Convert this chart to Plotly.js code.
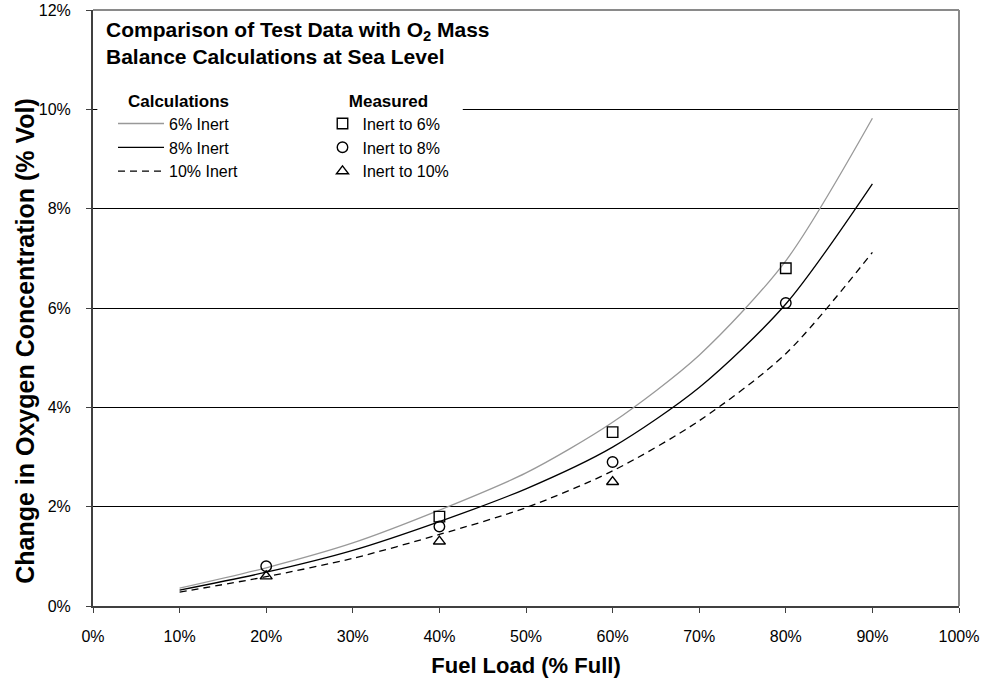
<!DOCTYPE html>
<html>
<head>
<meta charset="utf-8">
<script src="https://cdn.plot.ly/plotly-3.0.1.min.js"></script>
<style>
  html, body { margin: 0; padding: 0; background: #fff; }
  #chart { width: 984px; height: 683px; }
</style>
</head>
<body>
<div id="chart"></div>
<script>
// Fuel load (% full) for the mass balance calculations
const calcLoad = [10, 20, 30, 40, 50, 60, 70, 80, 90];
// Calculated change in O2 concentration (% vol) for each inert level
const calc6 = [0.36, 0.77, 1.27, 1.93, 2.68, 3.70, 5.05, 6.95, 9.82];
const calc8 = [0.32, 0.68, 1.12, 1.70, 2.36, 3.20, 4.40, 6.08, 8.50];
const calc10 = [0.28, 0.59, 0.96, 1.44, 1.98, 2.72, 3.73, 5.08, 7.12];

// Measured test points
const meas6Load = [40, 60, 80];
const meas6 = [1.8, 3.5, 6.8];
const meas8Load = [20, 40, 60, 80];
const meas8 = [0.8, 1.6, 2.9, 6.1];
const meas10Load = [20, 40, 60];
const meas10 = [0.6, 1.3, 2.5];

const xTicks = [0, 10, 20, 30, 40, 50, 60, 70, 80, 90, 100];
const yTicks = [0, 2, 4, 6, 8, 10, 12];

const FONT = 'Liberation Sans, Arial, sans-serif';

const lineTrace = (y, name, color, dash) => ({
  x: calcLoad, y: y, name: name, type: 'scatter', mode: 'lines',
  line: { color: color, width: 1.3, dash: dash, shape: 'spline', smoothing: 0.8 },
  legend: 'legend', hoverinfo: 'skip'
});
const markTrace = (x, y, name, symbol) => ({
  x: x, y: y, name: name, type: 'scatter', mode: 'markers',
  marker: { symbol: symbol, size: 10.5, color: '#000', line: { color: '#000', width: 1.4 } },
  legend: 'legend2', hoverinfo: 'skip'
});

const traces = [
  lineTrace(calc6, '6% Inert', '#999999', 'solid'),
  lineTrace(calc8, '8% Inert', '#000000', 'solid'),
  lineTrace(calc10, '10% Inert', '#000000', '7px,5px'),
  markTrace(meas6Load, meas6, 'Inert to 6%', 'square-open'),
  markTrace(meas8Load, meas8, 'Inert to 8%', 'circle-open'),
  markTrace(meas10Load, meas10, 'Inert to 10%', 'triangle-up-open')
];

const legendBase = {
  bgcolor: 'rgba(255,255,255,0)', borderwidth: 0,
  font: { family: FONT, size: 16, color: '#000' },
  tracegroupgap: 0, itemclick: false, itemdoubleclick: false,
  yanchor: 'top', xanchor: 'left'
};

const layout = {
  width: 984, height: 683,
  margin: { l: 93, r: 25, t: 10, b: 77 },
  paper_bgcolor: '#fff', plot_bgcolor: '#fff',
  font: { family: FONT, color: '#000' },
  showlegend: true,
  xaxis: {
    range: [0, 100], tickvals: xTicks, ticktext: xTicks.map(v => v + '%'),
    showgrid: false, zeroline: false,
    showline: true, linecolor: '#404040', linewidth: 2,
    ticks: 'outside', ticklen: 5, tickcolor: '#404040', tickwidth: 1,
    ticklabelstandoff: 10,
    tickfont: { family: FONT, size: 16, color: '#000' },
    title: { text: 'Fuel Load (% Full)', font: { family: FONT, size: 22, color: '#000', weight: 'bold' }, standoff: 13 }
  },
  yaxis: {
    range: [0, 12], tickvals: yTicks, ticktext: yTicks.map(v => v + '%'),
    showgrid: true, gridcolor: '#000', gridwidth: 1, zeroline: false,
    showline: true, linecolor: '#404040', linewidth: 2,
    ticks: 'outside', ticklen: 5, tickcolor: '#404040', tickwidth: 1,
    ticklabelstandoff: 12,
    tickfont: { family: FONT, size: 16, color: '#000' }
  },
  legend: Object.assign({}, legendBase, {
    x: 0.0231, y: 0.875, itemwidth: 46,
    title: { text: 'Calculations', side: 'top center', font: { family: FONT, size: 17, weight: 'bold' } }
  }),
  legend2: Object.assign({}, legendBase, {
    x: 0.265, y: 0.875, itemwidth: 30,
    title: { text: 'Measured', side: 'top center', font: { family: FONT, size: 17, weight: 'bold' } }
  }),
  shapes: [
    // white panel behind the heading and key
    { type: 'rect', xref: 'paper', yref: 'paper', x0: 0.005, x1: 0.427, y0: 0.69, y1: 0.995,
      fillcolor: '#fff', line: { width: 0 }, layer: 'above' },
    // frame on the top and right of the plot
    { type: 'line', xref: 'paper', yref: 'paper', x0: 0, x1: 1, y0: 1, y1: 1,
      line: { color: '#8a8a8a', width: 2 }, layer: 'above' },
    { type: 'line', xref: 'paper', yref: 'paper', x0: 1, x1: 1, y0: 0, y1: 1,
      line: { color: '#8a8a8a', width: 2 }, layer: 'above' }
  ],
  annotations: [
    { xref: 'paper', yref: 'paper', x: 0.013, y: 0.99, xanchor: 'left', yanchor: 'top', align: 'left',
      showarrow: false,
      text: 'Comparison of Test Data with O<sub>2</sub> Mass<br>Balance Calculations at Sea Level',
      font: { family: FONT, size: 21, color: '#000', weight: 'bold' } },
    // vertical axis title
    { xref: 'paper', yref: 'paper', x: -0.0785, y: 0.445, xanchor: 'center', yanchor: 'middle',
      textangle: -90, showarrow: false,
      text: 'Change in Oxygen Concentration (% Vol)',
      font: { family: FONT, size: 25, color: '#000', weight: 'bold' } }
  ]
};

Plotly.newPlot('chart', traces, layout, { displayModeBar: false, staticPlot: true });
</script>
</body>
</html>
